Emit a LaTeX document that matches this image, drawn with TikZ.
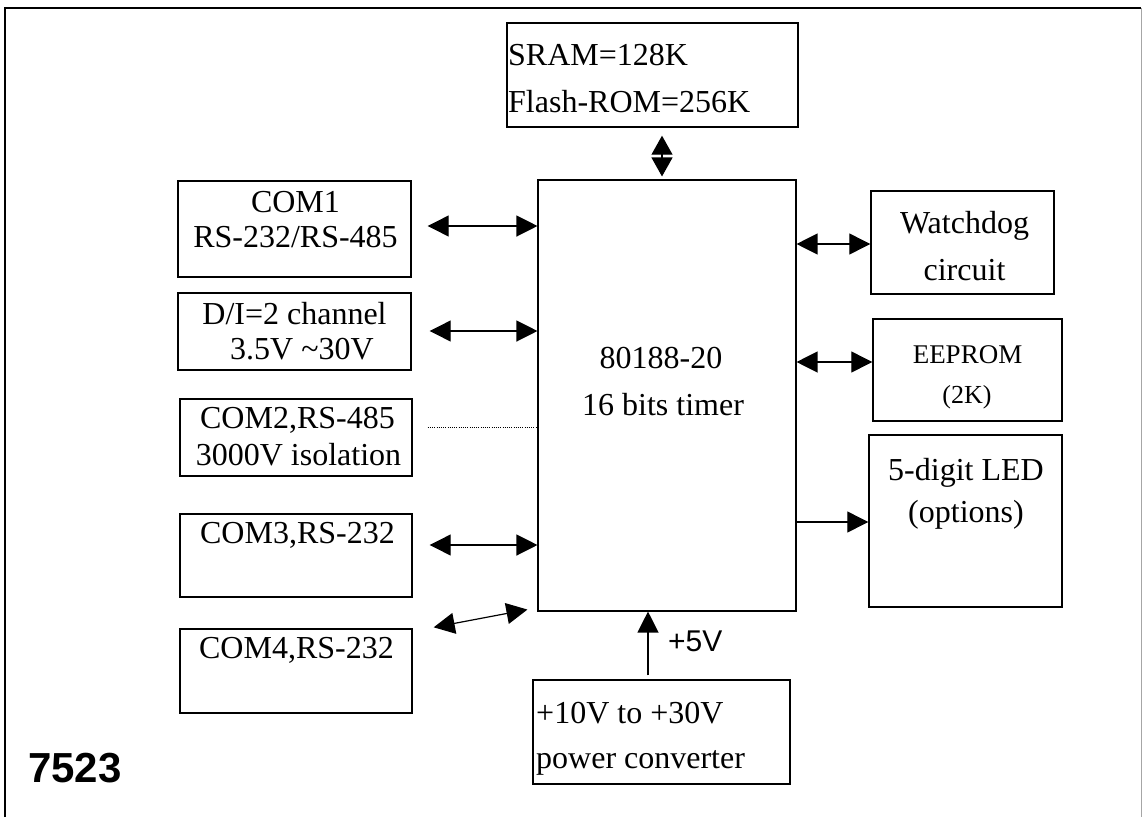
\documentclass[tikz,border=0pt]{standalone}
\usepackage{fontspec}
\setmainfont{Liberation Serif}
\newfontfamily\arialFont{Liberation Sans}
\usetikzlibrary{arrows.meta}

\begin{document}
\begin{tikzpicture}[x=1pt, y=-1pt, line join=miter]
    \tikzstyle{boxStyle} = [draw=black, line width=1.4pt, inner sep=0pt]
    \tikzstyle{textStyle} = [anchor=base, inner sep=0pt, font=\fontsize{32}{36}\selectfont]
    \tikzstyle{leftText} = [textStyle, anchor=base west]
    \tikzstyle{dblArrow} = [line width=1.2pt, {Triangle[length=21pt,width=21pt]}-{Triangle[length=21pt,width=21pt]}]
    \tikzstyle{oneArrow} = [line width=1.2pt, -{Triangle[length=21pt,width=21pt]}]
    \tikzstyle{dotLine} = [line width=0.9pt, dash pattern=on 1pt off 1.2pt]
    \useasboundingbox (0,0) rectangle (1143,817);
    % outer frame
    \draw[line width=1.5pt] (5,817) -- (5,8) -- (1141,8);
    \draw[line width=1pt, gray!70] (1141,8) -- (1141,817);
    % blocks
    \node[boxStyle, minimum width=291pt, minimum height=104pt] (sram) at (652.5,75) {};
    \node[boxStyle, line width=1.1pt, minimum width=258pt, minimum height=431pt] (cpu) at (667,395.5) {};
    \node[boxStyle, minimum width=233pt, minimum height=96pt] (com1) at (294.5,229) {};
    \node[boxStyle, minimum width=233pt, minimum height=77pt] (di) at (294.5,331.5) {};
    \node[boxStyle, minimum width=232pt, minimum height=77pt] (com2) at (296,437.5) {};
    \node[boxStyle, minimum width=232pt, minimum height=83pt] (com3) at (296,555.5) {};
    \node[boxStyle, minimum width=232pt, minimum height=84pt] (com4) at (296,671) {};
    \node[boxStyle, minimum width=257pt, minimum height=104pt] (pwr) at (661.5,732) {};
    \node[boxStyle, minimum width=183pt, minimum height=103pt] (wdog) at (962.5,242.5) {};
    \node[boxStyle, minimum width=189pt, minimum height=102pt] (eeprom) at (967.5,370) {};
    \node[boxStyle, minimum width=193pt, minimum height=172pt] (led) at (965.5,521) {};
    % texts
    \node[leftText] (sramA) at (508,65) {SRAM=128K};
    \node[leftText] (sramB) at (508,112) {Flash-ROM=256K};
    \node[textStyle] (cpuA) at (661,368) {80188-20};
    \node[textStyle] (cpuB) at (663,415) {16 bits timer};
    \node[textStyle] (com1A) at (295.5,212) {COM1};
    \node[textStyle] (com1B) at (295.5,247) {RS-232/RS-485};
    \node[textStyle] (diA) at (294.5,324) {D/I=2 channel};
    \node[textStyle] (diB) at (302,359) {3.5V \textasciitilde30V};
    \node[textStyle] (com2A) at (297.5,428) {COM2,RS-485};
    \node[textStyle] (com2B) at (298.5,465) {3000V isolation};
    \node[textStyle] (com3A) at (297.5,543) {COM3,RS-232};
    \node[textStyle] (com4A) at (296.5,658) {COM4,RS-232};
    \node[leftText] (pwrA) at (536,723) {+10V to +30V};
    \node[leftText] (pwrB) at (536,768) {power converter};
    \node[textStyle] (wdogA) at (964.5,233) {Watchdog};
    \node[textStyle] (wdogB) at (964.5,280) {circuit};
    \node[textStyle, font=\fontsize{27}{32}\selectfont] (eepromA) at (967.5,363) {EEPROM};
    \node[textStyle, font=\fontsize{26}{32}\selectfont] (eepromB) at (967,403) {(2K)};
    \node[textStyle] (ledA) at (966,480) {5-digit LED};
    \node[textStyle] (ledB) at (966,522) {(options)};
    \node[anchor=base west, inner sep=0pt, font=\arialFont\fontsize{30}{34}\selectfont] (volt) at (668,651) {+5V};
    \node[anchor=base west, inner sep=0pt, font=\arialFont\bfseries\fontsize{42}{48}\selectfont] (model) at (28,782) {7523};
    % connectors
    \foreach \src/\gap/\dy in {com1/16/3, di/18/0.5, com3/17/10.5} {
        \coordinate (\src Port) at ([xshift=\gap pt, yshift=\dy pt]\src.east);
        \draw[dblArrow] (\src Port) -- (\src Port -| cpu.west);
    }
    \coordinate (com2Port) at ([xshift=15pt, yshift=10.5pt]com2.east);
    \draw[dotLine] (com2Port) -- (com2Port -| cpu.west);
    \draw[dblArrow] ([xshift=21pt, yshift=1pt]com4.north east) -- ([xshift=-10pt, yshift=2pt]cpu.south west);
    \foreach \dst/\dy/\tip in {wdog/-1.5/dblArrow, eeprom/8/dblArrow, led/-1/oneArrow} {
        \coordinate (\dst Port) at ([yshift=\dy pt]\dst.west);
        \draw[\tip] (\dst Port -| cpu.east) -- (\dst Port);
    }
    \coordinate (memPort) at ([xshift=9.5pt, yshift=-8pt]sram.south);
    \draw[line width=1.2pt, {Triangle[length=19pt,width=21pt]}-{Triangle[length=19pt,width=21pt]}, shorten >=3pt] (memPort) -- (memPort |- cpu.north);
    \coordinate (pwrPort) at ([xshift=-13.5pt, yshift=4pt]pwr.north);
    \draw[oneArrow] (pwrPort) -- (pwrPort |- cpu.south);
\end{tikzpicture}
\end{document}
